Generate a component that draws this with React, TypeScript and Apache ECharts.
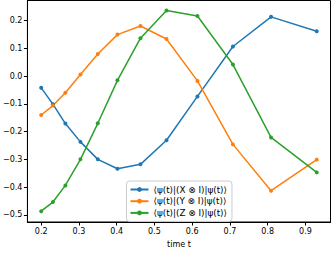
import React, { useEffect, useRef } from "react";
import * as echarts from "echarts";

const times = [0.2, 0.231, 0.264, 0.304, 0.35, 0.402, 0.463, 0.532, 0.614, 0.708, 0.809, 0.93];
const xValues = [-0.042, -0.101, -0.171, -0.237, -0.3, -0.334, -0.318, -0.231, -0.073, 0.107, 0.214, 0.162];
const yValues = [-0.14, -0.106, -0.06, 0.006, 0.08, 0.15, 0.181, 0.134, -0.017, -0.246, -0.413, -0.301];
const zValues = [-0.487, -0.454, -0.394, -0.3, -0.17, -0.015, 0.137, 0.237, 0.217, 0.042, -0.221, -0.347];
const seriesNames = ["⟨ψ(t)|(X ⊗ I)|ψ(t)⟩", "⟨ψ(t)|(Y ⊗ I)|ψ(t)⟩", "⟨ψ(t)|(Z ⊗ I)|ψ(t)⟩"];
const colors = ["#1f77b4", "#ff7f0e", "#2ca02c"];
const xTicks = [0.2, 0.3, 0.4, 0.5, 0.6, 0.7, 0.8, 0.9];
const yTicks = [-0.5, -0.4, -0.3, -0.2, -0.1, 0.0, 0.1, 0.2];

export default function App() {
  const ref = useRef<HTMLDivElement>(null);
  useEffect(() => {
    if (!ref.current) return;
    const chart = echarts.init(ref.current, null, { renderer: "svg" });
    const all = [xValues, yValues, zValues];
    chart.setOption({
      animation: false,
      textStyle: { fontFamily: "DejaVu Sans" },
      grid: {
        left: 26,
        right: 1.5,
        top: 0.5,
        bottom: 25,
        show: true,
        borderColor: "#000",
        borderWidth: 1,
      },
      legend: {
        orient: "vertical",
        left: 126.5,
        top: 181,
        backgroundColor: "rgba(255,255,255,0.85)",
        borderColor: "#cccccc",
        borderWidth: 1,
        borderRadius: 3,
        padding: [4, 5, 4, 3],
        itemGap: 2.7,
        itemWidth: 18,
        itemHeight: 6,
        textStyle: { fontSize: 8.8, lineHeight: 9, color: "#000", fontFamily: "DejaVu Sans" },
        data: seriesNames,
      },
      xAxis: {
        type: "value",
        min: 0.1635,
        max: 0.9665,
        name: "time t",
        nameLocation: "middle",
        nameGap: 18,
        nameTextStyle: { fontSize: 8, color: "#000" },
        splitLine: { show: false },
        axisLine: { show: true, onZero: false, lineStyle: { color: "#000", width: 1 } },
        axisTick: { show: true, length: 3.5, customValues: xTicks, lineStyle: { color: "#000" } },
        axisLabel: {
          customValues: xTicks,
          fontSize: 8,
          color: "#000",
          margin: 5,
          formatter: (v: number) => v.toFixed(1),
        },
      },
      yAxis: {
        type: "value",
        min: -0.526,
        max: 0.273,
        splitLine: { show: false },
        axisLine: { show: true, onZero: false, lineStyle: { color: "#000", width: 1 } },
        axisTick: { show: true, length: 3.5, customValues: yTicks, lineStyle: { color: "#000" } },
        axisLabel: {
          customValues: yTicks,
          fontSize: 8,
          color: "#000",
          margin: 5,
          formatter: (v: number) => (Math.abs(v) < 1e-9 ? "0.0" : v.toFixed(1).replace("-", "−")),
        },
      },
      series: all.map((vals, i) => ({
        name: seriesNames[i],
        type: "line",
        data: times.map((t, j) => [t, vals[j]]),
        color: colors[i],
        symbol: "circle",
        symbolSize: 4,
        showSymbol: true,
        lineStyle: { width: 1.5, color: colors[i] },
        itemStyle: { color: colors[i] },
        emphasis: { disabled: true },
      })),
    });
    return () => chart.dispose();
  }, []);
  return <div ref={ref} style={{ width: 332, height: 253, position: "absolute", left: 0, top: 0 }} />;
}
